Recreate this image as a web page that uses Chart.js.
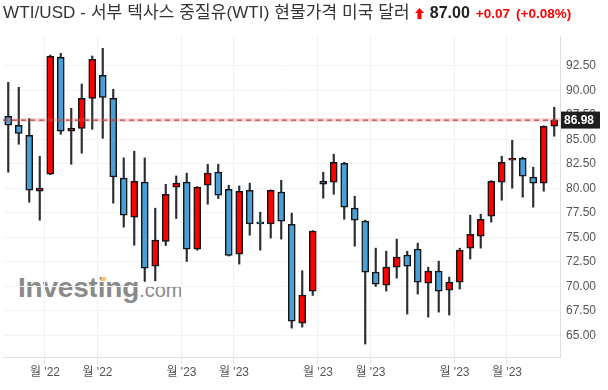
<!DOCTYPE html>
<html>
<head>
<meta charset="utf-8">
<script src="https://cdn.jsdelivr.net/npm/chart.js@4.4.0/dist/chart.umd.min.js"></script>
<style>
  body { margin: 0; background: #fff; }
  #wrap { position: relative; width: 608px; height: 390px; overflow: hidden; }
  #title { position: absolute; left: 3px; top: 2px; white-space: nowrap; line-height: 22px;
           font-family: "Liberation Sans", "Noto Sans CJK KR", sans-serif; z-index: 2; }
  #title .name { font-size: 17px; color: #333; letter-spacing: 0.1px; }
  #title .last { font-size: 16px; font-weight: bold; color: #222; margin-left: 6px; }
  #title .chg { font-size: 13.5px; font-weight: bold; color: #f00; margin-left: 6px; }
  #title svg { margin-left: 5px; vertical-align: -1px; }
  #wm { position: absolute; left: 18px; top: 274px; line-height: 28px; color: #8a8a8a;
        font-family: "Liberation Sans", sans-serif; z-index: 0; white-space: nowrap; }
  #wm b { font-size: 28px; letter-spacing: -0.2px; }
  #wm span { font-size: 20px; }
  #wm i { position: absolute; left: 83px; top: 3px; width: 5px; height: 4px; background: #f8c56a;
          transform: skewX(-20deg); }
  canvas { position: absolute; left: 0; top: 0; z-index: 1; }
</style>
</head>
<body>
<div id="wrap">
  <div id="title"><span class="name">WTI/USD - 서부 텍사스 중질유(WTI) 현물가격 미국 달러</span><svg width="9" height="11" viewBox="0 0 9 11"><polygon points="4.5,0 9,5 6.5,5 6.5,11 2.5,11 2.5,5 0,5" fill="#f00"/></svg><span class="last">87.00</span><span class="chg">+0.07</span><span class="chg">(+0.08%)</span></div>
  <div id="wm"><b>Investing</b><span>.com</span><i></i></div>
  <canvas id="chart" width="608" height="390"></canvas>
</div>
<script>
// weekly candles, oldest first
const opens  = [87.37, 86.45, 85.43, 79.72, 81.45, 93.38, 85.84, 86.14, 89.20, 91.55,
                89.20, 81.05, 77.07, 80.64, 72.07, 74.59, 80.13, 80.64, 73.81, 80.33,
                81.66, 79.92, 73.30, 79.82, 76.59, 76.39, 79.62, 76.35, 66.26, 69.52,
                80.74, 80.64, 82.57, 77.99, 76.66, 71.46, 70.13, 71.97, 73.19, 73.81,
                70.34, 71.56, 69.62, 70.44, 73.91, 75.13, 77.17, 80.64, 82.88, 83.08,
                81.15, 80.54, 86.35];
const highs  = [90.83, 90.32, 87.13, 83.29, 93.62, 93.79, 88.18, 90.66, 93.52, 94.30,
                90.12, 83.12, 83.80, 83.12, 77.99, 80.43, 81.28, 81.56, 80.20, 82.47,
                82.47, 80.33, 80.26, 80.54, 77.58, 79.85, 80.84, 77.48, 71.60, 75.70,
                81.66, 83.49, 82.68, 79.21, 76.76, 73.91, 73.60, 74.83, 73.60, 74.42,
                71.97, 72.58, 70.95, 73.91, 77.27, 77.37, 80.80, 83.29, 84.92, 83.19,
                82.17, 86.40, 88.29];
const lows   = [81.66, 84.51, 78.60, 76.76, 81.40, 85.53, 82.47, 83.60, 86.04, 85.12,
                78.50, 76.05, 74.21, 70.51, 70.58, 74.18, 76.93, 72.55, 73.70, 78.39,
                78.97, 73.10, 72.28, 75.23, 73.70, 74.93, 74.83, 65.75, 65.85, 69.08,
                79.01, 79.41, 76.86, 74.11, 64.12, 70.00, 69.52, 70.85, 67.18, 69.22,
                66.87, 67.38, 67.08, 69.73, 72.79, 73.91, 76.56, 78.80, 80.03, 79.11,
                78.09, 79.72, 85.33];
const closes = [86.45, 85.63, 79.82, 80.03, 93.49, 85.84, 86.14, 89.20, 93.18, 89.30,
                81.18, 77.27, 80.74, 71.87, 74.72, 79.41, 80.54, 73.81, 80.13, 81.56,
                79.31, 73.16, 79.72, 76.39, 76.39, 79.82, 76.66, 66.46, 69.11, 75.64,
                80.43, 82.68, 78.09, 76.76, 71.46, 70.24, 71.97, 72.99, 72.07, 70.44,
                71.56, 69.52, 70.44, 73.70, 75.33, 76.86, 80.74, 82.68, 83.08, 81.25,
                80.54, 86.35, 86.98];
const lastPrice = 86.98;

// month labels sit between candles
const xTickPos = [3.5, 8.5, 16.5, 21.5, 29.5, 34.5, 42.5, 47.5];
const xTickLabels = ["월 '22", "월 '22", "월 '23", "월 '23", "월 '23", "월 '23", "월 '23", "월 '23"];
const yTicks = [65, 67.5, 70, 72.5, 75, 77.5, 80, 82.5, 85, 87.5, 90, 92.5];

const UP = '#ff0000';
const DOWN = '#4a9fd7';
const FONT = '"Liberation Sans", "Noto Sans CJK KR", sans-serif';

const idx = opens.map((_, i) => i);
const bodies = idx.map(i => ({ x: i, y: [opens[i], closes[i]] }));
const wicks = idx.map(i => ({ x: i, y: [lows[i], highs[i]] }));
const bodyColors = idx.map(i => closes[i] >= opens[i] ? UP : DOWN);
const priceLine = [{ x: -0.5, y: lastPrice }, { x: 52.55, y: lastPrice }];

// black price tag on the right axis
const lastPriceTag = {
    id: 'lastPriceTag',
    afterDraw(chart) {
        const ctx = chart.ctx;
        const y = chart.scales.y.getPixelForValue(lastPrice);
        const x0 = chart.chartArea.right + 1;
        ctx.save();
        ctx.fillStyle = '#1e1e1e';
        ctx.fillRect(x0, y - 8.5, 39, 17);
        ctx.fillStyle = '#fff';
        ctx.font = 'bold 12px ' + FONT;
        ctx.textBaseline = 'middle';
        ctx.fillText(lastPrice.toFixed(2), x0 + 3, y + 0.5);
        ctx.restore();
    }
};

new Chart(document.getElementById('chart'), {
    type: 'bar',
    data: {
        datasets: [
            { type: 'line', data: priceLine, borderColor: '#9b4e4e', borderDash: [5, 4],
              borderWidth: 1.3, pointRadius: 0, order: 0 },
            { type: 'line', data: priceLine, borderColor: 'rgba(255,80,80,0.22)',
              borderWidth: 4, pointRadius: 0, order: 1 },
            { data: bodies, backgroundColor: bodyColors, borderColor: '#141414', borderWidth: 1.5,
              borderSkipped: false, barThickness: 7, grouped: false, order: 2 },
            { data: wicks, backgroundColor: '#2a2e33', barThickness: 1.5, grouped: false, order: 3 }
        ]
    },
    options: {
        responsive: false,
        animation: false,
        layout: { padding: { top: 36, left: 3, right: 0, bottom: 0 } },
        plugins: { legend: { display: false }, tooltip: { enabled: false } },
        scales: {
            x: {
                type: 'linear', min: -0.5, max: 52.55, offset: false,
                afterBuildTicks: s => { s.ticks = xTickPos.map(v => ({ value: v })); },
                afterFit: s => { s.height = 33; },
                ticks: { callback: (v, i) => xTickLabels[i], color: '#555', padding: 1,
                         font: { size: 12, family: FONT }, maxRotation: 0, autoSkip: false },
                grid: { offset: false, color: '#eff1f4', tickLength: 7, tickColor: '#e2e4e8' },
                border: { color: '#dfe1e5' }
            },
            y: {
                position: 'right', min: 62.8, max: 95.56,
                afterBuildTicks: s => { s.ticks = yTicks.map(v => ({ value: v })); },
                afterFit: s => { s.width = 48; },
                ticks: { callback: v => v.toFixed(2), color: '#555', padding: 6,
                         font: { size: 12, family: FONT } },
                grid: { color: '#f2f3f5', drawTicks: false },
                border: { color: '#dcdee2' }
            }
        }
    },
    plugins: [lastPriceTag]
});
</script>
</body>
</html>
